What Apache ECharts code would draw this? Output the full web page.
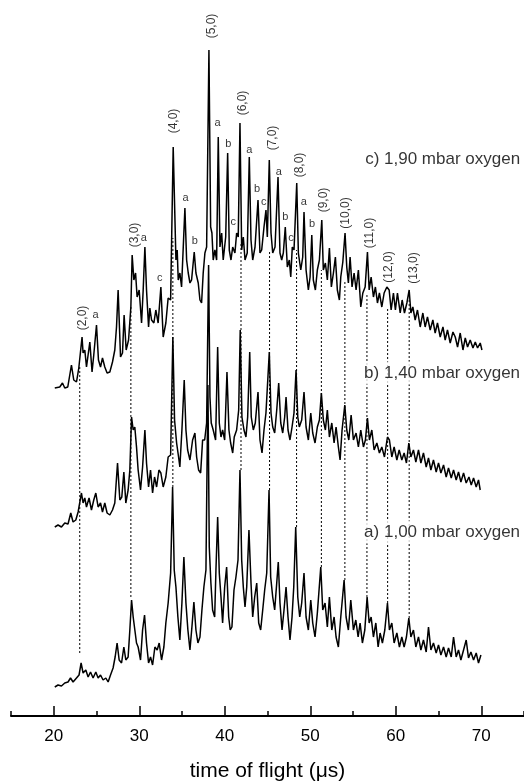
<!DOCTYPE html>
<html>
<head>
<meta charset="utf-8">
<script src="https://cdn.jsdelivr.net/npm/echarts@6/dist/echarts.min.js"></script>
<style>
  html, body { margin: 0; padding: 0; background: #fff; }
  #chart { width: 524px; height: 782px; }
</style>
</head>
<body>
<div id="chart"></div>
<script>
// time of flight (us) vs signal, three spectra stacked
var majorTicks = [20, 30, 40, 50, 60, 70];
var minorTicks = [15, 25, 35, 45, 55, 65, 75];

// c) 1,90 mbar
var traceC = [
  [20.12,328],[20.32,326],[20.70,329],[21.02,333],[21.29,328],[21.64,329],[22.07,351],[22.34,336],
  [22.66,334],[22.93,348],[23.31,379],[23.43,363],[23.63,366],[23.83,349],[24.22,374],[24.48,344],
  [24.68,361],[25.00,391],[25.23,356],[25.47,349],[25.70,358],[25.97,349],[26.24,343],[26.56,344],
  [26.87,354],[27.14,366],[27.34,389],[27.53,426],[27.81,359],[28.04,363],[28.23,401],[28.47,366],
  [28.75,376],[29.02,409],[29.17,461],[29.37,436],[29.57,443],[29.75,419],[29.99,426],[30.27,393],
  [30.46,426],[30.66,469],[30.85,426],[31.09,389],[31.24,408],[31.44,396],[31.71,393],[31.94,406],
  [32.21,393],[32.53,429],[32.80,379],[33.11,393],[33.38,418],[33.67,416],[33.97,569],[34.29,456],
  [34.44,466],[34.56,436],[34.75,443],[34.95,429],[35.34,508],[35.54,456],[35.73,443],[35.93,433],
  [36.12,436],[36.43,464],[36.63,443],[36.90,433],[37.10,416],[37.29,413],[37.48,443],[37.68,463],
  [37.88,469],[38.15,666],[38.35,489],[38.50,483],[38.65,456],[38.85,466],[39.05,456],[39.24,579],
  [39.44,469],[39.64,483],[39.82,456],[40.11,479],[40.34,563],[40.53,466],[40.73,456],[40.93,469],
  [41.19,463],[41.39,483],[41.58,479],[41.78,593],[41.98,466],[42.17,479],[42.37,456],[42.63,463],
  [42.87,559],[43.07,476],[43.27,456],[43.54,469],[43.89,516],[44.12,463],[44.32,466],[44.59,489],
  [44.82,506],[44.98,479],[45.21,556],[45.41,483],[45.61,463],[45.88,469],[46.23,539],[46.46,463],
  [46.66,456],[46.85,463],[47.08,489],[47.32,449],[47.55,456],[47.72,439],[47.90,469],[48.10,466],
  [48.42,533],[48.61,463],[48.89,446],[49.12,459],[49.27,504],[49.51,446],[49.78,426],[49.98,439],
  [50.18,481],[50.36,436],[50.60,426],[50.83,446],[51.07,456],[51.35,496],[51.53,446],[51.77,453],
  [52.00,436],[52.24,468],[52.47,429],[52.71,443],[52.94,459],[53.17,426],[53.41,416],[53.57,439],
  [53.81,454],[54.07,483],[54.27,449],[54.46,433],[54.66,459],[54.89,429],[55.13,443],[55.36,426],
  [55.63,446],[55.91,409],[56.15,423],[56.42,429],[56.69,464],[56.89,426],[57.12,439],[57.39,419],
  [57.62,429],[57.86,413],[58.09,423],[58.37,409],[58.64,423],[58.96,429],[59.23,426],[59.46,406],
  [59.73,423],[59.96,406],[60.20,423],[60.52,403],[60.75,416],[61.02,403],[61.30,413],[61.57,426],
  [61.77,403],[62.00,409],[62.27,396],[62.54,406],[62.86,389],[63.17,403],[63.44,389],[63.71,399],
  [64.03,386],[64.34,396],[64.61,383],[64.88,393],[65.20,379],[65.52,389],[65.78,376],[66.05,386],
  [66.37,373],[66.69,384],[66.96,379],[67.23,369],[67.54,383],[67.86,366],[68.13,378],[68.40,369],
  [68.71,376],[69.03,368],[69.30,374],[69.57,368],[69.88,373],[70.08,366]
];

// b) 1,40 mbar
var traceB = [
  [20.12,189],[20.50,191],[20.90,189],[21.29,193],[21.67,192],[21.99,203],[22.26,194],[22.58,196],
  [22.85,204],[23.24,223],[23.43,213],[23.63,218],[23.83,209],[24.13,218],[24.41,206],[24.68,216],
  [24.92,223],[25.19,209],[25.47,213],[25.70,204],[25.97,213],[26.24,203],[26.56,201],[26.87,206],
  [27.14,213],[27.46,253],[27.73,216],[27.96,219],[28.20,244],[28.43,213],[28.70,226],[28.90,246],
  [29.10,299],[29.29,286],[29.48,289],[29.68,269],[29.87,246],[30.15,226],[30.39,249],[30.66,286],
  [30.85,253],[31.09,229],[31.32,246],[31.56,223],[31.79,239],[32.03,229],[32.30,246],[32.53,243],
  [32.80,229],[33.11,239],[33.38,259],[33.67,261],[33.93,379],[34.13,296],[34.37,273],[34.60,259],
  [34.75,249],[34.99,286],[35.26,336],[35.46,286],[35.66,266],[35.93,256],[36.24,276],[36.51,283],
  [36.71,259],[36.94,246],[37.18,243],[37.41,276],[37.65,276],[37.88,293],[38.11,451],[38.27,319],
  [38.42,293],[38.65,286],[38.93,276],[39.17,369],[39.36,293],[39.56,279],[39.75,286],[39.99,276],
  [40.26,344],[40.49,286],[40.69,273],[40.93,263],[41.11,279],[41.39,286],[41.63,306],[41.81,386],
  [42.01,299],[42.25,286],[42.48,279],[42.68,299],[42.92,364],[43.10,299],[43.34,286],[43.57,293],
  [43.89,324],[44.12,276],[44.36,263],[44.59,286],[44.82,303],[45.02,303],[45.21,364],[45.41,303],
  [45.61,289],[45.84,283],[46.08,306],[46.31,333],[46.55,293],[46.78,283],[47.01,299],[47.17,319],
  [47.40,286],[47.63,276],[47.87,289],[48.10,303],[48.34,346],[48.54,299],[48.72,289],[49.00,296],
  [49.27,324],[49.51,289],[49.78,276],[50.06,303],[50.29,283],[50.56,273],[50.83,289],[51.07,296],
  [51.30,323],[51.53,296],[51.77,286],[52.00,306],[52.24,279],[52.52,293],[52.79,273],[53.02,289],
  [53.29,269],[53.49,256],[53.72,286],[54.04,311],[54.27,286],[54.51,276],[54.78,301],[55.05,276],
  [55.36,283],[55.63,269],[55.91,286],[56.22,269],[56.45,276],[56.69,298],[56.92,276],[57.20,286],
  [57.47,266],[57.79,273],[58.09,263],[58.37,269],[58.68,259],[59.03,279],[59.26,276],[59.54,259],
  [59.81,269],[60.13,256],[60.40,266],[60.71,256],[60.98,263],[61.25,253],[61.53,273],[61.77,259],
  [62.07,266],[62.35,254],[62.66,266],[62.94,253],[63.24,263],[63.56,249],[63.83,258],[64.11,246],
  [64.41,256],[64.73,244],[65.00,253],[65.28,243],[65.59,251],[65.90,239],[66.17,248],[66.49,238],
  [66.76,246],[67.07,236],[67.34,244],[67.62,234],[67.93,243],[68.24,233],[68.56,239],[68.83,231],
  [69.10,238],[69.41,229],[69.68,236],[69.88,226]
];

// a) 1,00 mbar
var traceA = [
  [20.12,29],[20.50,31],[20.90,30],[21.29,33],[21.67,34],[21.96,38],[22.26,34],[22.66,38],
  [22.96,41],[23.20,53],[23.43,43],[23.75,46],[24.02,39],[24.30,44],[24.60,38],[24.92,44],
  [25.19,38],[25.47,41],[25.77,36],[26.09,38],[26.36,34],[26.64,41],[26.94,48],[27.18,59],
  [27.41,73],[27.65,56],[27.93,53],[28.20,69],[28.43,56],[28.70,59],[28.90,86],[29.10,116],
  [29.29,99],[29.48,101],[29.68,73],[29.87,69],[30.15,56],[30.39,86],[30.62,101],[30.85,73],
  [31.09,53],[31.32,59],[31.56,51],[31.83,69],[32.10,66],[32.33,73],[32.61,56],[32.88,69],
  [33.11,93],[33.38,113],[33.67,143],[33.90,229],[34.09,146],[34.29,129],[34.52,99],[34.75,76],
  [34.99,113],[35.22,159],[35.46,113],[35.69,86],[35.93,66],[36.16,89],[36.39,114],[36.63,86],
  [36.86,73],[37.10,79],[37.33,106],[37.56,129],[37.80,146],[38.03,331],[38.19,169],[38.38,133],
  [38.58,106],[38.82,99],[38.97,146],[39.17,199],[39.36,143],[39.56,119],[39.75,93],[39.99,129],
  [40.22,149],[40.46,99],[40.64,86],[40.84,89],[41.08,126],[41.31,139],[41.55,156],[41.78,246],
  [41.98,156],[42.17,129],[42.37,109],[42.57,129],[42.83,186],[43.07,133],[43.27,99],[43.50,119],
  [43.74,133],[43.97,93],[44.20,86],[44.44,106],[44.67,126],[44.91,143],[45.18,226],[45.37,139],
  [45.61,119],[45.84,106],[46.08,133],[46.26,154],[46.46,113],[46.70,86],[46.93,106],[47.17,129],
  [47.40,99],[47.63,76],[47.87,99],[48.07,129],[48.30,189],[48.54,119],[48.77,99],[49.00,113],
  [49.27,143],[49.51,99],[49.78,86],[50.06,116],[50.29,93],[50.56,79],[50.83,103],[51.23,149],
  [51.46,106],[51.73,113],[52.00,89],[52.24,119],[52.52,86],[52.79,99],[53.02,79],[53.29,69],
  [53.57,99],[53.96,136],[54.19,99],[54.46,86],[54.74,116],[55.05,86],[55.33,96],[55.60,79],
  [55.83,93],[56.10,73],[56.38,86],[56.65,119],[56.89,93],[57.12,99],[57.39,79],[57.67,93],
  [57.94,69],[58.17,83],[58.44,73],[58.72,86],[59.03,113],[59.26,86],[59.54,93],[59.81,73],
  [60.13,83],[60.43,69],[60.71,79],[60.98,69],[61.25,79],[61.53,98],[61.77,79],[62.07,86],
  [62.35,69],[62.66,79],[62.94,66],[63.24,76],[63.56,64],[63.83,89],[64.11,66],[64.41,73],
  [64.73,63],[65.00,71],[65.28,61],[65.59,69],[65.90,59],[66.17,68],[66.49,59],[66.76,79],
  [67.07,59],[67.34,66],[67.62,56],[67.93,66],[68.24,76],[68.51,58],[68.79,64],[69.10,56],
  [69.41,63],[69.68,53],[69.96,61]
];

// dotted guide lines: (n,0) positions, from spectrum a up to spectrum c
var dotTof  = [23.04, 29.02, 33.93, 41.90, 45.24, 48.40, 51.30, 54.05, 56.63, 59.05, 61.57];
var dotLow  = [63, 119, 229, 246, 226, 189, 149, 136, 119, 113, 98];
var dotHigh = [349, 409, 478, 473, 466, 466, 446, 436, 423, 409, 416];

// (n,0) peak labels
var bandNames = ['(2,0)','(3,0)','(4,0)','(5,0)','(6,0)','(7,0)','(8,0)','(9,0)','(10,0)','(11,0)','(12,0)','(13,0)'];
var bandTof   = [23.40, 29.48, 34.05, 38.50, 42.13, 45.64, 48.81, 51.62, 54.19, 57.00, 59.23, 62.04];
var bandY     = [398, 481, 595, 690, 613, 578, 551, 516, 503, 483, 449, 448];

// small letters a/b/c
var subNames = ['a','a','c','a','b','a','b','c','a','b','c','a','b','c','a','b'];
var subTof   = [24.88, 30.54, 32.41, 35.42, 36.51, 39.17, 40.41, 41.00, 42.87, 43.77, 44.55, 46.31, 47.08, 47.75, 49.24, 50.21];
var subY     = [401, 478, 438, 518, 475, 593, 572, 494, 566, 527, 514, 544, 499, 478, 514, 492];

var traceNames = ['c) 1,90 mbar oxygen', 'b) 1,40 mbar oxygen', 'a) 1,00 mbar oxygen'];
var traceNameTof = [56.42, 56.30, 56.30];
var traceNameY = [557, 343, 184];

var font = '"Liberation Sans", Arial, sans-serif';

var series = [];
for (var i = 0; i < dotTof.length; i++) {
  series.push({
    type: 'line',
    data: [[dotTof[i], dotLow[i]], [dotTof[i], dotHigh[i]]],
    symbol: 'none',
    lineStyle: { color: '#000', width: 1, type: [2, 2] },
    z: 1
  });
}
[traceA, traceB, traceC].forEach(function (d) {
  series.push({
    type: 'line',
    data: d,
    symbol: 'none',
    lineStyle: { color: '#000', width: 1.5 },
    z: 2
  });
});
series.push({
  type: 'scatter',
  symbolSize: 0,
  data: bandNames.map(function (n, i) { return { value: [bandTof[i], bandY[i]], name: n }; }),
  label: {
    show: true, position: 'inside', rotate: 90, formatter: '{b}',
    color: '#000', fontSize: 12, fontFamily: font
  },
  z: 3
});
series.push({
  type: 'scatter',
  symbolSize: 0,
  data: subNames.map(function (n, i) { return { value: [subTof[i], subY[i]], name: n }; }),
  label: {
    show: true, position: 'inside', formatter: '{b}',
    color: '#000', fontSize: 11, fontFamily: font
  },
  z: 3
});
series.push({
  type: 'scatter',
  symbolSize: 0,
  data: traceNames.map(function (n, i) { return { value: [traceNameTof[i], traceNameY[i]], name: n }; }),
  label: {
    show: true, position: 'right', distance: 0, formatter: '{b}',
    color: '#000', fontSize: 17, fontFamily: font,
    backgroundColor: '#fff', padding: [3, 0, 3, 0]
  },
  z: 3
});

var chart = echarts.init(document.getElementById('chart'));
chart.setOption({
  animation: false,
  backgroundColor: '#fff',
  grid: { left: 11, right: 0, top: 0, bottom: 66, containLabel: false, outerBoundsMode: 'none' },
  xAxis: [{
    type: 'value',
    min: 15,
    max: 75,
    position: 'bottom',
    name: 'time of flight (\u03bcs)',
    nameLocation: 'middle',
    nameGap: 45,
    nameTextStyle: { color: '#000', fontSize: 21, fontFamily: font },
    axisLine: { show: true, lineStyle: { color: '#000', width: 2 } },
    axisTick: { show: true, inside: true, length: 10, customValues: majorTicks, lineStyle: { color: '#000', width: 1.5 } },
    axisLabel: { show: true, customValues: majorTicks, margin: 12, color: '#000', fontSize: 17, fontFamily: font },
    splitLine: { show: false }
  }, {
    type: 'value',
    min: 15,
    max: 75,
    position: 'bottom',
    axisLine: { show: false },
    axisTick: { show: true, inside: true, length: 5, customValues: minorTicks, lineStyle: { color: '#000', width: 1.5 } },
    axisLabel: { show: false },
    splitLine: { show: false }
  }],
  yAxis: {
    type: 'value',
    min: 0,
    max: 716,
    show: false
  },
  series: series
});
</script>
</body>
</html>
